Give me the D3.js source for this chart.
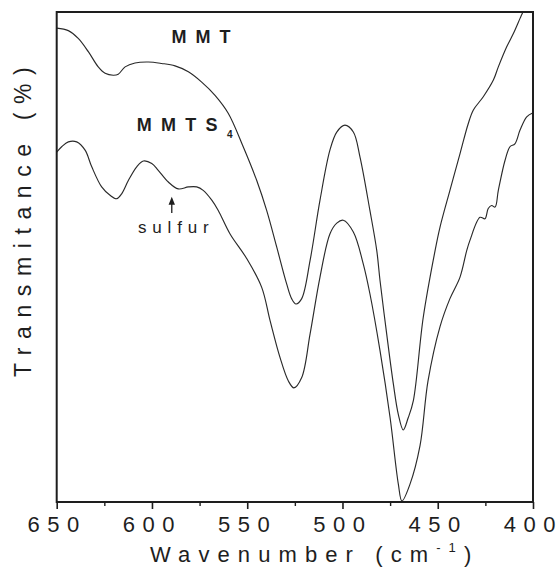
<!DOCTYPE html>
<html>
<head>
<meta charset="utf-8">
<script src="https://cdn.jsdelivr.net/npm/d3@7/dist/d3.min.js"></script>
<style>
  html, body { margin: 0; padding: 0; background: #fff; }
  svg { display: block; }
</style>
</head>
<body>
<script>
// FTIR spectra, 650–400 cm-1
const wavenumberMMT = [650.0, 643.9, 638.7, 633.4, 628.2, 624.6, 620.3, 617.7, 614.1, 608.9,
  601.9, 594.9, 587.9, 580.9, 573.9, 566.9, 559.9, 552.1, 545.0, 539.8, 534.5, 529.3, 526.7,
  524.4, 521.4, 517.0, 511.8, 506.6, 503.0, 498.7, 494.3, 490.8, 485.6, 482.0, 480.3, 476.8,
  473.3, 470.7, 468.1, 465.5, 462.8, 457.6, 451.4, 448.8, 443.6, 438.3, 434.0, 431.3, 426.1,
  420.8, 418.2, 413.8, 410.3, 406.8, 405.4, 401.6];
const transmittanceMMT = [96.7, 96.2, 94.6, 91.9, 88.8, 87.5, 87.1, 87.3, 88.8, 89.6,
  89.8, 89.5, 89.0, 87.8, 85.7, 83.0, 79.3, 72.5, 65.6, 59.5, 52.0, 44.5, 41.5,
  40.4, 41.5, 49.3, 61.6, 71.8, 75.5, 76.9, 75.5, 70.4, 59.5, 51.3, 45.2, 34.3,
  24.1, 17.9, 14.7, 17.2, 20.7, 37.7, 51.3, 56.1, 63.6, 71.1, 77.2, 80.0, 82.7,
  86.1, 88.8, 92.9, 95.6, 98.7, 99.9, 103.5];

const wavenumberMMTS4 = [650.0, 647.4, 643.9, 639.5, 635.1, 631.6, 626.4, 622.0, 618.5, 615.9,
  612.4, 608.0, 604.5, 600.1, 596.7, 591.4, 586.2, 580.9, 576.5, 573.1, 568.6, 565.2, 559.0,
  550.3, 542.4, 538.0, 532.8, 528.4, 525.5, 521.4, 517.0, 511.8, 506.6, 503.0, 499.6, 494.3,
  489.1, 485.6, 480.3, 475.0, 470.7, 468.8, 464.6, 459.3, 455.1, 448.8, 443.6, 438.3, 434.8,
  433.1, 427.8, 425.2, 423.5, 421.7, 419.9, 418.2, 414.7, 412.1, 409.5, 406.8, 403.3, 400.2];
const transmittanceMMTS4 = [71.4, 72.5, 73.5, 73.5, 71.8, 68.4, 64.3, 62.6, 61.9, 62.9,
  65.6, 68.4, 69.6, 69.1, 67.7, 65.3, 63.9, 64.3, 64.3, 63.6, 61.6, 59.5, 54.7,
  49.7, 43.8, 37.0, 29.5, 24.7, 23.3, 25.4, 34.3, 45.9, 54.7, 56.9, 57.5, 55.1,
  48.6, 42.5, 30.9, 17.2, 3.7, 0.2, 3.6, 11.5, 24.7, 35.8, 41.5, 45.9, 51.3,
  53.4, 58.1, 57.8, 59.9, 60.5, 60.2, 63.6, 69.7, 72.5, 73.1, 75.9, 78.6, 79.4];

const xTickValues = [650, 600, 550, 500, 450, 400];
const xMinorTickValues = [625, 575, 525, 475, 425];

// Sulfur band marker
const sulfurWavenumber = 589.6;

const width = 558, height = 569;
const plot = { left: 56.7, right: 533, top: 12, bottom: 502 };
const font = '"Liberation Sans", Arial, Helvetica, sans-serif';
const ink = "#1e1e1e";

const svg = d3.select("body").append("svg")
  .attr("width", width).attr("height", height)
  .style("font-family", font);

const x = d3.scaleLinear().domain([650, 400]).range([plot.left, plot.right]);
const y = d3.scaleLinear().domain([0, 100]).range([plot.bottom, plot.top]);

svg.append("defs").append("clipPath").attr("id", "plot-clip")
  .append("rect")
  .attr("x", plot.left).attr("y", plot.top)
  .attr("width", plot.right - plot.left).attr("height", plot.bottom - plot.top);

const line = d3.line()
  .x(d => x(d[0]))
  .y(d => y(d[1]))
  .curve(d3.curveCatmullRom.alpha(0.5));

const series = [
  d3.zip(wavenumberMMT, transmittanceMMT),
  d3.zip(wavenumberMMTS4, transmittanceMMTS4)
];

svg.append("g").attr("clip-path", "url(#plot-clip)")
  .selectAll("path").data(series).join("path")
  .attr("d", line)
  .attr("fill", "none")
  .attr("stroke", "#2a2a2a")
  .attr("stroke-width", 1.15);

// frame
svg.append("rect")
  .attr("x", plot.left).attr("y", plot.top)
  .attr("width", plot.right - plot.left).attr("height", plot.bottom - plot.top)
  .attr("fill", "none").attr("stroke", ink).attr("stroke-width", 2);

// Spaced-out text drawn as one tspan per character, gaps only between characters
function spaced(sel, str, gap) {
  sel.text(null);
  Array.from(str).forEach((ch, i) => {
    sel.append("tspan").attr("dx", i === 0 ? 0 : gap).text(ch);
  });
}

// bottom axis: major ticks with labels
const axisMajor = svg.append("g")
  .attr("transform", `translate(0,${plot.bottom})`)
  .call(d3.axisBottom(x).tickValues(xTickValues).tickSize(7).tickFormat(d3.format("d")));
axisMajor.select(".domain").remove();
axisMajor.selectAll(".tick line").attr("stroke", ink).attr("stroke-width", 1.6);
axisMajor.selectAll(".tick text")
  .attr("x", -3.8).attr("y", 30).attr("dy", 0)
  .attr("fill", ink)
  .style("font-family", font)
  .style("font-size", "22px")
  .each(function (d) { spaced(d3.select(this), String(d), 7.5); });

// bottom axis: minor ticks
const axisMinor = svg.append("g")
  .attr("transform", `translate(0,${plot.bottom})`)
  .call(d3.axisBottom(x).tickValues(xMinorTickValues).tickSize(4).tickFormat(""));
axisMinor.select(".domain").remove();
axisMinor.selectAll(".tick line").attr("stroke", ink).attr("stroke-width", 1.4);

// axis titles
const xTitle = svg.append("text")
  .attr("x", 150).attr("y", 562)
  .attr("fill", ink)
  .style("font-size", "22px")
  .style("letter-spacing", "8.1px");
xTitle.append("tspan").text("Wavenumber (cm");
xTitle.append("tspan").attr("dy", -10).style("font-size", "13px").text("-1");
xTitle.append("tspan").attr("dy", 10).text(")");

svg.append("text")
  .attr("transform", "translate(31,377) rotate(-90)")
  .attr("fill", ink)
  .style("font-size", "23px")
  .style("letter-spacing", "8.6px")
  .text("Transmitance (%)");

// series labels
svg.append("text")
  .attr("x", x(589.7)).attr("y", y(93.7))
  .attr("fill", ink)
  .style("font-size", "18px").style("font-weight", "bold")
  .style("letter-spacing", "9px")
  .text("MMT");

const s4 = svg.append("text")
  .attr("x", x(608.0)).attr("y", y(75.8))
  .attr("fill", ink)
  .style("font-size", "18px").style("font-weight", "bold")
  .style("letter-spacing", "9.3px");
s4.append("tspan").text("MMTS");
s4.append("tspan").attr("dy", 7).style("font-size", "10px").text("4");

// sulfur annotation
svg.append("text")
  .attr("x", x(607.3)).attr("y", y(54.9))
  .attr("fill", ink)
  .style("font-size", "17px")
  .style("letter-spacing", "5.8px")
  .text("sulfur");

const ax = x(sulfurWavenumber);
const tipY = y(62.3);
svg.append("line")
  .attr("x1", ax).attr("x2", ax)
  .attr("y1", y(59.0)).attr("y2", tipY + 5)
  .attr("stroke", ink).attr("stroke-width", 1.3);
svg.append("path")
  .attr("d", d3.line()([[ax, tipY], [ax - 3.2, tipY + 8], [ax + 3.2, tipY + 8]]) + "Z")
  .attr("fill", ink);
</script>
</body>
</html>
